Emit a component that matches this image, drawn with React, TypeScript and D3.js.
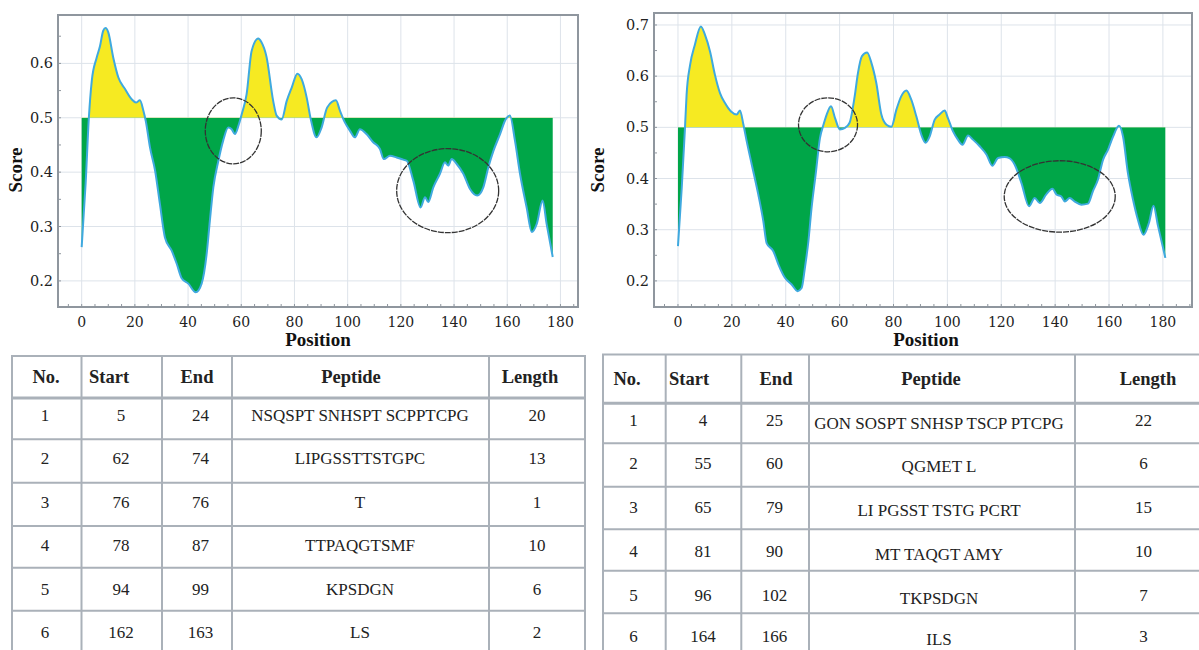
import React, { useEffect, useRef } from "react"
import * as d3 from "d3"

// left chart (first sequence)
const leftPositions = [0, 1.5, 2.7, 3.8, 5.6, 6.9, 8.1, 9.0, 10.0, 11.9, 13.8, 16.3, 18.8, 20.4, 21.9, 23.2, 24.1, 25.7, 27.6, 29.4, 31.3, 33.8, 35.7, 37.6, 40.1, 42.9, 45.1, 47.0, 48.2, 49.5, 51.4, 53.2, 55.1, 56.4, 57.6, 59.1, 60.2, 62.0, 63.9, 66.4, 67.5, 69.5, 72.0, 73.3, 75.2, 77.1, 79.0, 81.1, 82.7, 84.6, 86.1, 88.3, 90.2, 92.3, 95.6, 97.1, 99.0, 100.9, 102.7, 104.6, 107.1, 109.6, 112.1, 113.6, 115.9, 118.4, 120.9, 122.2, 124.7, 127.4, 129.1, 130.3, 132.2, 134.7, 136.6, 137.8, 139.1, 141.0, 143.5, 146.0, 148.7, 151.0, 152.9, 154.8, 157.3, 159.5, 161.0, 162.9, 164.8, 167.3, 169.2, 171.1, 173.3, 174.8, 177.1]
const leftScores = [0.262, 0.38, 0.50, 0.568, 0.61, 0.632, 0.66, 0.665, 0.657, 0.61, 0.574, 0.553, 0.534, 0.528, 0.532, 0.513, 0.494, 0.445, 0.403, 0.342, 0.280, 0.256, 0.232, 0.205, 0.195, 0.179, 0.195, 0.250, 0.311, 0.372, 0.421, 0.458, 0.482, 0.479, 0.470, 0.488, 0.507, 0.543, 0.623, 0.646, 0.640, 0.612, 0.531, 0.504, 0.497, 0.531, 0.556, 0.581, 0.571, 0.537, 0.498, 0.464, 0.482, 0.519, 0.532, 0.513, 0.491, 0.476, 0.464, 0.479, 0.470, 0.455, 0.443, 0.424, 0.430, 0.427, 0.423, 0.421, 0.384, 0.335, 0.354, 0.345, 0.372, 0.397, 0.418, 0.412, 0.424, 0.415, 0.397, 0.369, 0.357, 0.372, 0.409, 0.439, 0.470, 0.498, 0.504, 0.458, 0.397, 0.335, 0.290, 0.305, 0.348, 0.305, 0.244]

// right chart (second sequence)
const rightPositions = [0, 1.4, 2.6, 3.2, 4.5, 6.3, 8.5, 10.0, 11.9, 13.7, 15.6, 17.4, 19.7, 21.8, 23.0, 24.3, 25.5, 27.4, 29.8, 31.7, 32.9, 35.4, 37.3, 39.7, 42.2, 44.4, 45.9, 47.1, 48.4, 49.6, 51.1, 52.7, 54.0, 55.2, 56.8, 58.3, 60.1, 62.0, 63.7, 65.6, 66.8, 68.3, 70.2, 71.8, 73.6, 75.5, 77.4, 79.2, 81.1, 82.9, 84.8, 86.6, 88.5, 90.3, 91.9, 93.4, 95.3, 97.1, 99.0, 100.2, 102.1, 103.9, 105.6, 107.7, 109.5, 112.0, 114.5, 116.7, 118.8, 121.3, 123.0, 125.0, 127.5, 130.3, 132.4, 134.3, 136.7, 139.0, 140.5, 142.3, 143.6, 145.4, 147.3, 149.7, 152.2, 154.0, 155.9, 157.8, 159.6, 161.5, 163.7, 165.2, 167.0, 168.9, 170.7, 172.8, 174.8, 176.5, 178.2, 180.9]
const rightScores = [0.268, 0.382, 0.499, 0.564, 0.622, 0.662, 0.697, 0.681, 0.648, 0.603, 0.567, 0.548, 0.531, 0.525, 0.533, 0.505, 0.473, 0.427, 0.369, 0.316, 0.274, 0.258, 0.232, 0.206, 0.193, 0.180, 0.186, 0.225, 0.277, 0.343, 0.408, 0.479, 0.505, 0.525, 0.541, 0.518, 0.496, 0.499, 0.509, 0.561, 0.606, 0.639, 0.646, 0.626, 0.587, 0.525, 0.505, 0.501, 0.535, 0.561, 0.572, 0.554, 0.521, 0.486, 0.470, 0.482, 0.515, 0.525, 0.533, 0.518, 0.492, 0.476, 0.466, 0.484, 0.476, 0.463, 0.447, 0.425, 0.440, 0.442, 0.440, 0.427, 0.391, 0.346, 0.362, 0.352, 0.369, 0.380, 0.369, 0.365, 0.355, 0.362, 0.355, 0.349, 0.351, 0.375, 0.398, 0.437, 0.456, 0.482, 0.503, 0.482, 0.411, 0.359, 0.320, 0.290, 0.313, 0.347, 0.307, 0.245]

const threshold = 0.5
const xTicks = [0, 20, 40, 60, 80, 100, 120, 140, 160, 180]
const leftYTicks = [0.2, 0.3, 0.4, 0.5, 0.6]
const rightYTicks = [0.2, 0.3, 0.4, 0.5, 0.6, 0.7]

// annotation ellipses: [position, score]
const leftMarks = [[57, 0.476], [137.6, 0.366]]
const rightMarks = [[55.7, 0.505], [141.7, 0.365]]

// tables
const headers = ["No.", "Start", "End", "Peptide", "Length"]
const leftNo = [1, 2, 3, 4, 5, 6]
const leftStart = [5, 62, 76, 78, 94, 162]
const leftEnd = [24, 74, 76, 87, 99, 163]
const leftPeptide = ["NSQSPT SNHSPT SCPPTCPG", "LIPGSSTTSTGPC", "T", "TTPAQGTSMF", "KPSDGN", "LS"]
const leftLength = [20, 13, 1, 10, 6, 2]

const rightNo = [1, 2, 3, 4, 5, 6]
const rightStart = [4, 55, 65, 81, 96, 164]
const rightEnd = [25, 60, 79, 90, 102, 166]
const rightPeptide = ["GON SOSPT SNHSP TSCP PTCPG", "QGMET L", "LI PGSST TSTG PCRT", "MT TAQGT AMY", "TKPSDGN", "ILS"]
const rightLength = [22, 6, 15, 10, 7, 3]

const tickFont = "'DejaVu Serif', serif"
const labelFont = "'Liberation Serif', serif"

const drawChart = (svg, opt) => {
    const g = svg.append('g')
    const x = d3.scaleLinear().domain(opt.xDomain).range([opt.left, opt.right])
    const y = d3.scaleLinear().domain(opt.yDomain).range([opt.bottom, opt.top])
    const data = opt.pos.map((p, i) => ({ p, s: opt.score[i] }))
    const id = opt.id

    // gridlines
    g.selectAll('.vg').data(xTicks).enter().append('line')
        .attr('x1', d => x(d)).attr('x2', d => x(d))
        .attr('y1', opt.top).attr('y2', opt.bottom)
        .attr('stroke', '#dde3ea').attr('stroke-width', 1)
    g.selectAll('.hg').data(opt.yTicks).enter().append('line')
        .attr('x1', opt.left).attr('x2', opt.right)
        .attr('y1', d => y(d)).attr('y2', d => y(d))
        .attr('stroke', '#dde3ea').attr('stroke-width', 1)

    const defs = svg.append('defs')
    defs.append('clipPath').attr('id', id + '-above').append('rect')
        .attr('x', opt.left).attr('y', opt.top)
        .attr('width', opt.right - opt.left).attr('height', y(threshold) - opt.top)
    defs.append('clipPath').attr('id', id + '-below').append('rect')
        .attr('x', opt.left).attr('y', y(threshold))
        .attr('width', opt.right - opt.left).attr('height', opt.bottom - y(threshold))

    const area = d3.area()
        .x(d => x(d.p))
        .y0(y(threshold))
        .y1(d => y(d.s))
        .curve(d3.curveMonotoneX)

    g.append('path').datum(data)
        .attr('d', area)
        .attr('fill', '#f6ea22')
        .attr('clip-path', `url(#${id}-above)`)
    g.append('path').datum(data)
        .attr('d', area)
        .attr('fill', '#00a648')
        .attr('clip-path', `url(#${id}-below)`)

    const line = d3.line()
        .x(d => x(d.p))
        .y(d => y(d.s))
        .curve(d3.curveMonotoneX)
    g.append('path').datum(data)
        .attr('d', line)
        .attr('fill', 'none')
        .attr('stroke', '#3fa9df')
        .attr('stroke-width', 2)

    // annotation ellipses
    g.selectAll('.mark').data(opt.marks).enter().append('ellipse')
        .attr('cx', d => x(d[0])).attr('cy', d => y(d[1]))
        .attr('rx', (d, i) => opt.markR[i][0]).attr('ry', (d, i) => opt.markR[i][1])
        .attr('fill', 'none').attr('stroke', '#333').attr('stroke-width', 1.3)
        .attr('stroke-dasharray', '6 1')

    // frame
    g.append('rect')
        .attr('x', opt.left).attr('y', opt.top)
        .attr('width', opt.right - opt.left).attr('height', opt.bottom - opt.top)
        .attr('fill', 'none').attr('stroke', '#8f969e').attr('stroke-width', 2)

    // minor ticks along bottom and left
    g.selectAll('.mt').data(d3.range(-5, opt.xDomain[1], 5)).enter().append('line')
        .attr('x1', d => x(d)).attr('x2', d => x(d))
        .attr('y1', opt.bottom).attr('y2', opt.bottom - 3)
        .attr('stroke', '#8f969e').attr('stroke-width', 1)
    g.selectAll('.ml').data(d3.range(0.15, opt.yDomain[1], 0.05).filter(v => v > opt.yDomain[0])).enter().append('line')
        .attr('x1', opt.left).attr('x2', opt.left + 3)
        .attr('y1', d => y(d)).attr('y2', d => y(d))
        .attr('stroke', '#8f969e').attr('stroke-width', 1)

    // tick labels
    g.selectAll('.xl').data(xTicks).enter().append('text')
        .attr('x', d => x(d)).attr('y', opt.bottom + 20)
        .attr('text-anchor', 'middle')
        .attr('font-family', tickFont).attr('font-size', 14).attr('fill', '#222')
        .text(d => d)
    g.selectAll('.yl').data(opt.yTicks).enter().append('text')
        .attr('x', opt.left - 5).attr('y', d => y(d) + 5)
        .attr('text-anchor', 'end')
        .attr('font-family', tickFont).attr('font-size', 14.5).attr('fill', '#222')
        .text(d => d3.format('.1f')(d))

    g.append('text')
        .attr('x', opt.xLabelX).attr('y', opt.bottom + 39)
        .attr('text-anchor', 'middle')
        .attr('font-family', labelFont).attr('font-weight', 'bold').attr('font-size', 19)
        .attr('fill', '#111')
        .text('Position')
    g.append('text')
        .attr('transform', `translate(${opt.yLabelX}, 170) rotate(-90)`)
        .attr('text-anchor', 'middle')
        .attr('font-family', labelFont).attr('font-weight', 'bold').attr('font-size', 19)
        .attr('fill', '#111')
        .text('Score')
}

const drawTable = (svg, opt) => {
    const g = svg.append('g')
    const cols = opt.cols
    const rows = opt.rows
    const stroke = '#aab1b9'
    const cells = [opt.no, opt.start, opt.end, opt.peptide, opt.length]

    g.append('rect')
        .attr('x', cols[0]).attr('y', rows[0])
        .attr('width', cols[cols.length - 1] - cols[0]).attr('height', 700 - rows[0])
        .attr('fill', '#fff').attr('stroke', stroke).attr('stroke-width', 2)

    g.selectAll('.cl').data(cols.slice(1, -1)).enter().append('line')
        .attr('x1', d => d).attr('x2', d => d)
        .attr('y1', rows[0]).attr('y2', 660)
        .attr('stroke', stroke).attr('stroke-width', 2)
    g.selectAll('.rl').data(rows.slice(1)).enter().append('line')
        .attr('x1', cols[0]).attr('x2', cols[cols.length - 1])
        .attr('y1', d => d).attr('y2', d => d)
        .attr('stroke', stroke).attr('stroke-width', (d, i) => i === 0 ? 3 : 2)

    g.selectAll('.hd').data(headers).enter().append('text')
        .attr('x', (d, i) => opt.headerX[i])
        .attr('y', (rows[0] + rows[1]) / 2 + 6)
        .attr('text-anchor', (d, i) => opt.headerAnchor[i])
        .attr('font-family', labelFont).attr('font-weight', 'bold').attr('font-size', 18.5)
        .attr('fill', '#222')
        .text(d => d)

    cells.forEach((col, c) => {
        g.selectAll('.c' + c).data(col).enter().append('text')
            .attr('x', opt.cellX[c])
            .attr('y', (d, i) => opt.textY[i] + (c === 3 ? opt.peptideShift : 0) + 6)
            .attr('text-anchor', 'middle')
            .attr('font-family', labelFont).attr('font-size', 17)
            .attr('fill', '#222')
            .text(d => d)
    })
}

const App = () => {
    const ref = useRef(null)

    useEffect(() => {
        const svg = d3.select(ref.current)
        svg.selectAll('*').remove()

        drawChart(svg, {
            id: 'left',
            pos: leftPositions, score: leftScores,
            xDomain: [-8.9, 186.6], yDomain: [0.152, 0.689],
            left: 58, right: 578, top: 15, bottom: 307,
            yTicks: leftYTicks,
            marks: leftMarks, markR: [[28, 33], [51, 42]],
            xLabelX: 318, yLabelX: 22,
        })
        drawChart(svg, {
            id: 'right',
            pos: rightPositions, score: rightScores,
            xDomain: [-8.9, 190.8], yDomain: [0.149, 0.7234],
            left: 654, right: 1192, top: 13, bottom: 307,
            yTicks: rightYTicks,
            marks: rightMarks, markR: [[29.5, 27], [55.5, 35.7]],
            xLabelX: 926, yLabelX: 604,
        })

        drawTable(svg, {
            cols: [12, 81.5, 162, 232, 489, 585],
            rows: [356, 398, 439.3, 482.7, 526, 567.7, 610.7],
            headerX: [46, 89, 197, 351, 530],
            headerAnchor: ['middle', 'start', 'middle', 'middle', 'middle'],
            cellX: [45, 121, 200.5, 360, 537],
            textY: [415, 458.3, 501.7, 545, 589.3, 632.3],
            peptideShift: 0,
            no: leftNo, start: leftStart, end: leftEnd, peptide: leftPeptide, length: leftLength,
        })
        drawTable(svg, {
            cols: [603, 665.7, 741.3, 809, 1075, 1230],
            rows: [354.5, 403.3, 443.3, 486.7, 529.3, 570.7, 613.3],
            headerX: [627, 669, 776, 931, 1148],
            headerAnchor: ['middle', 'start', 'middle', 'middle', 'middle'],
            cellX: [633.6, 703, 774.6, 939, 1143.5],
            textY: [420, 463.3, 507.3, 550.7, 595, 636],
            peptideShift: 3,
            no: rightNo, start: rightStart, end: rightEnd, peptide: rightPeptide, length: rightLength,
        })
    }, [])

    return (
        <svg ref={ref} width={1199} height={650}
            style={{ position: 'absolute', left: 0, top: 0, background: '#fff' }} />
    )
}

export default App
